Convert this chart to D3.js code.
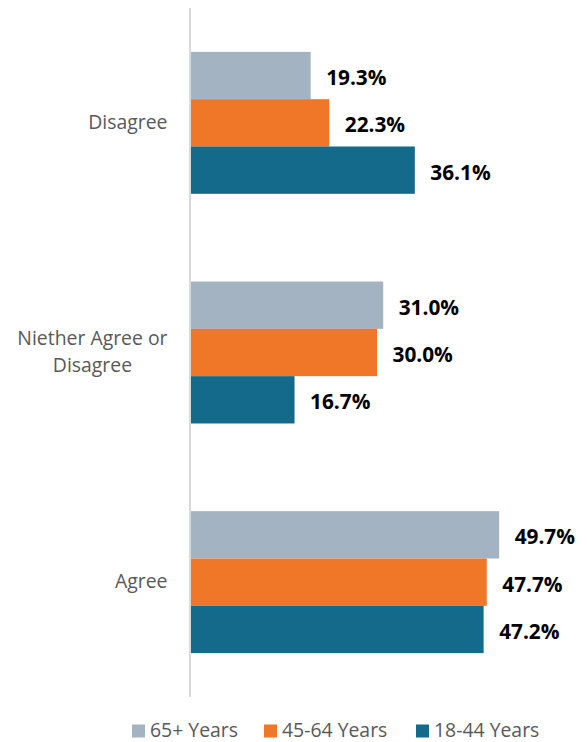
<!DOCTYPE html>
<html>
<head>
<meta charset="utf-8">
<script src="https://cdn.jsdelivr.net/npm/d3@7"></script>
<style>
  html, body { margin: 0; padding: 0; background: #fff; }
  svg { display: block; }
</style>
</head>
<body>
<svg id="chart" width="587" height="742"></svg>
<script>
// Survey responses by age group (percent)
const categories = ["Disagree", "Niether Agree or Disagree", "Agree"];
const categoryLines = [["Disagree"], ["Niether Agree or", "Disagree"], ["Agree"]];
const seriesNames = ["65+ Years", "45-64 Years", "18-44 Years"];
const values65 = [19.3, 31.0, 49.7];
const values45 = [22.3, 30.0, 47.7];
const values18 = [36.1, 16.7, 47.2];
const seriesColors = ["#A3B3C2", "#F07628", "#136A8B"];

const seriesValues = [values65, values45, values18];

const svg = d3.select("#chart");
const plotLeft = 191, plotTop = 8, plotBottom = 697;

const x = d3.scaleLinear().domain([0, 60]).range([plotLeft, plotLeft + 60 * 6.2]);
const y = d3.scaleBand().domain(categories).range([plotTop, plotBottom])
  .paddingInner(0.382).paddingOuter(0.191);
const ySub = d3.scaleBand().domain(seriesNames).range([0, y.bandwidth()]);

// bars
categories.forEach((cat, ci) => {
  const g = svg.append("g").attr("transform", `translate(0,${y(cat)})`);
  seriesNames.forEach((s, si) => {
    const v = seriesValues[si][ci];
    g.append("rect")
      .attr("x", x(0))
      .attr("y", ySub(s))
      .attr("width", x(v) - x(0))
      .attr("height", ySub.bandwidth())
      .attr("fill", seriesColors[si]);
    g.append("text")
      .attr("x", x(v) + 15.5)
      .attr("y", ySub(s) + ySub.bandwidth() / 2 + 4)
      .attr("dominant-baseline", "middle")
      .attr("font-family", "'Open Sans', sans-serif")
      .attr("font-weight", "bold")
      .attr("font-size", 20.8)
      .attr("fill", "#000")
      .text(v.toFixed(1) + "%");
  });
});

// vertical axis line
svg.append("line")
  .attr("x1", plotLeft - 1).attr("x2", plotLeft - 1)
  .attr("y1", plotTop).attr("y2", plotBottom)
  .attr("stroke", "#D9D9D9").attr("stroke-width", 2);

// category labels: block right-aligned to the axis, lines centred within the block
const labelFont = "'Open Sans', sans-serif";
const labelSize = 19.4;
categories.forEach((cat, ci) => {
  const lines = categoryLines[ci];
  const cy = y(cat) + y.bandwidth() / 2;
  const t = svg.append("text")
    .attr("font-family", labelFont)
    .attr("font-size", labelSize)
    .attr("fill", "#595959");
  const lh = 27;
  const spans = lines.map((ln, li) => t.append("tspan")
    .attr("y", cy + (li - (lines.length - 1) / 2) * lh + 1)
    .attr("dominant-baseline", "middle")
    .text(ln));
  const widths = spans.map(s => s.node().getComputedTextLength());
  const maxW = d3.max(widths);
  const right = 167.5;
  spans.forEach(s => s.attr("x", right - maxW / 2).attr("text-anchor", "middle"));
});

// legend
const legendX = [132, 264, 416];
const legendY = 731;
seriesNames.forEach((s, i) => {
  svg.append("rect")
    .attr("x", legendX[i]).attr("y", legendY - 6.5)
    .attr("width", 13).attr("height", 13)
    .attr("fill", seriesColors[i]);
  svg.append("text")
    .attr("x", legendX[i] + 18).attr("y", legendY + 1)
    .attr("dominant-baseline", "middle")
    .attr("font-family", labelFont)
    .attr("font-size", labelSize)
    .attr("fill", "#595959")
    .text(s);
});
</script>
</body>
</html>
